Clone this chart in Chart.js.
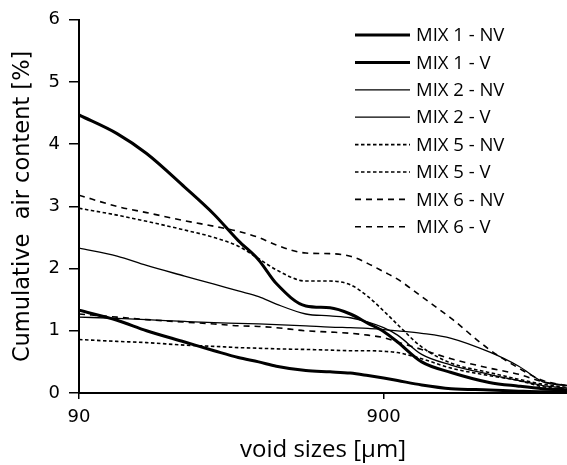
<!DOCTYPE html>
<html>
<head>
<meta charset="utf-8">
<script src="https://cdn.jsdelivr.net/npm/chart.js@4/dist/chart.umd.min.js"></script>
<style>
  html, body { margin: 0; padding: 0; background: #fff; }
  #wrap { width: 567px; height: 465px; }
</style>
</head>
<body>
<div id="wrap"><canvas id="airChart"></canvas></div>
<script>
// void sizes [µm] shared by every series
const voidSizes = [90, 120, 150, 200, 250, 300, 350, 400, 500, 600, 700, 800, 900, 1000, 1200, 1500, 2000, 2500, 3000, 3600];

// cumulative air content [%]
const mix1NV = [4.47, 4.17, 3.85, 3.31, 2.87, 2.45, 2.14, 1.76, 1.40, 1.37, 1.27, 1.12, 0.99, 0.82, 0.50, 0.33, 0.17, 0.11, 0.07, 0.05];
const mix1V  = [1.33, 1.17, 1.00, 0.82, 0.68, 0.57, 0.50, 0.43, 0.36, 0.34, 0.32, 0.28, 0.24, 0.20, 0.13, 0.07, 0.05, 0.03, 0.02, 0.02];
const mix2NV = [2.33, 2.20, 2.05, 1.88, 1.75, 1.64, 1.55, 1.43, 1.27, 1.24, 1.21, 1.14, 1.05, 0.93, 0.62, 0.45, 0.30, 0.20, 0.12, 0.08];
const mix2V  = [1.22, 1.20, 1.18, 1.15, 1.13, 1.12, 1.11, 1.10, 1.08, 1.06, 1.05, 1.04, 1.02, 1.00, 0.96, 0.88, 0.66, 0.43, 0.18, 0.12];
const mix5NV = [2.97, 2.86, 2.76, 2.62, 2.50, 2.36, 2.16, 1.98, 1.80, 1.80, 1.74, 1.55, 1.32, 1.10, 0.74, 0.48, 0.33, 0.22, 0.14, 0.09];
const mix5V  = [0.86, 0.83, 0.81, 0.77, 0.75, 0.73, 0.72, 0.71, 0.70, 0.69, 0.68, 0.68, 0.67, 0.65, 0.55, 0.40, 0.28, 0.20, 0.10, 0.06];
const mix6NV = [3.18, 3.00, 2.90, 2.77, 2.68, 2.60, 2.50, 2.38, 2.25, 2.24, 2.20, 2.08, 1.95, 1.83, 1.55, 1.20, 0.70, 0.40, 0.20, 0.12];
const mix6V  = [1.27, 1.22, 1.18, 1.14, 1.11, 1.08, 1.07, 1.05, 1.00, 0.98, 0.96, 0.93, 0.89, 0.82, 0.70, 0.55, 0.40, 0.30, 0.18, 0.12];

const xTicks = [90, 900];

function pts(values) {
    return values.map((v, i) => ({ x: voidSizes[i], y: v }));
}

function series(label, values, width, dash) {
    return {
        label: label,
        data: pts(values),
        borderColor: '#000',
        backgroundColor: '#000',
        borderWidth: width,
        borderDash: dash,
        pointRadius: 0,
        fill: false,
        cubicInterpolationMode: 'monotone'
    };
}

const DOT = [3.5, 2.5];
const DASH = [6, 5];

// legend drawn inside the plot, top right
const insideLegend = {
    id: 'insideLegend',
    afterDraw(chart) {
        const c = chart.ctx;
        c.save();
        chart.data.datasets.forEach((ds, i) => {
            const y = 35 + i * 27.4;
            c.strokeStyle = '#000';
            c.lineWidth = ds.borderWidth;
            c.setLineDash(ds.borderDash || []);
            c.beginPath();
            c.moveTo(355, y);
            c.lineTo(410, y);
            c.stroke();
            c.setLineDash([]);
            c.fillStyle = '#000';
            c.font = '18.5px "Open Sans", sans-serif';
            c.textBaseline = 'middle';
            c.fillText(ds.label, 416, y + 1);
        });
        c.restore();
    }
};

new Chart(document.getElementById('airChart'), {
    type: 'line',
    data: {
        datasets: [
            series('MIX 1 - NV', mix1NV, 3, []),
            series('MIX 1 - V', mix1V, 3, []),
            series('MIX 2 - NV', mix2NV, 1.3, []),
            series('MIX 2 - V', mix2V, 1.3, []),
            series('MIX 5 - NV', mix5NV, 1.6, DOT),
            series('MIX 5 - V', mix5V, 1.6, DOT),
            series('MIX 6 - NV', mix6NV, 1.6, DASH),
            series('MIX 6 - V', mix6V, 1.6, DASH)
        ]
    },
    options: {
        responsive: true,
        maintainAspectRatio: false,
        animation: false,
        layout: { padding: { top: 15, right: 0, left: 0, bottom: 0 } },
        plugins: {
            legend: { display: false },
            tooltip: { enabled: false }
        },
        scales: {
            x: {
                type: 'logarithmic',
                min: 90,
                max: 3600,
                afterBuildTicks: axis => { axis.ticks = xTicks.map(v => ({ value: v })); },
                afterFit: axis => { axis.height = 72; },
                border: { color: '#000', width: 2 },
                grid: { drawOnChartArea: false, color: '#000', tickLength: 6, lineWidth: 1.5 },
                ticks: {
                    color: '#000',
                    font: { family: 'DejaVu Sans', size: 18 },
                    padding: 8,
                    maxRotation: 0,
                    callback: v => String(v)
                },
                title: {
                    display: true,
                    text: 'void sizes [µm]',
                    color: '#000',
                    font: { family: 'Open Sans', size: 24 },
                    padding: { top: 0, bottom: 0 }
                }
            },
            y: {
                min: 0,
                max: 6,
                afterFit: axis => { axis.width = 79; },
                border: { color: '#000', width: 2 },
                grid: { drawOnChartArea: false, color: '#000', tickLength: 10, lineWidth: 1.5 },
                ticks: {
                    stepSize: 1,
                    color: '#000',
                    font: { family: 'DejaVu Sans', size: 18 },
                    padding: 9
                },
                title: {
                    display: true,
                    text: 'Cumulative  air content [%]',
                    color: '#000',
                    font: { family: 'DejaVu Sans', size: 22.5 },
                    padding: { top: 10, bottom: 0 }
                }
            }
        }
    },
    plugins: [insideLegend]
});
</script>
</body>
</html>
